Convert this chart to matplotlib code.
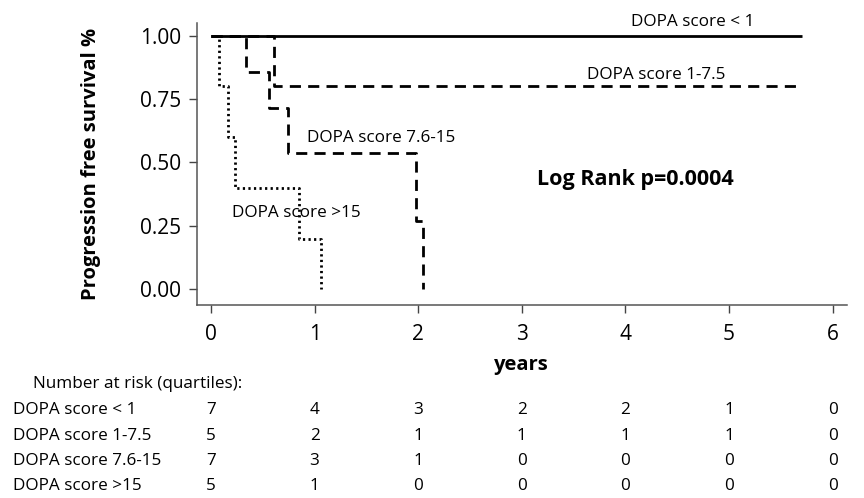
import matplotlib
matplotlib.use('Agg')
import matplotlib.pyplot as plt
import matplotlib.transforms as mtransforms

plt.rcParams['font.family'] = ['Open Sans', 'DejaVu Sans']

# Kaplan-Meier steps (years, survival)
t_lt1 = [0, 5.71]
s_lt1 = [1.0, 1.0]
t_1_75 = [0, 0.61, 5.71]
s_1_75 = [1.0, 0.8, 0.8]
t_76_15 = [0, 0.34, 0.56, 0.74, 1.98, 2.05]
s_76_15 = [1.0, 0.857, 0.714, 0.536, 0.268, 0.0]
t_gt15 = [0, 0.08, 0.16, 0.23, 0.85, 1.06]
s_gt15 = [1.0, 0.8, 0.6, 0.4, 0.2, 0.0]

groups = ["DOPA score < 1", "DOPA score 1-7.5", "DOPA score 7.6-15", "DOPA score >15"]
risk_years = [0, 1, 2, 3, 4, 5, 6]
at_risk = [
    [7, 4, 3, 2, 2, 1, 0],
    [5, 2, 1, 1, 1, 1, 0],
    [7, 3, 1, 0, 0, 0, 0],
    [5, 1, 0, 0, 0, 0, 0],
]

fig = plt.figure(figsize=(8.64, 4.98), dpi=100)
ax = fig.add_axes([0.2277, 0.3876, 0.7523, 0.5668])

ax.step(t_lt1, s_lt1, where='post', color='black', lw=2.0, solid_capstyle='butt')
ax.step(t_1_75, s_1_75, where='post', color='black', lw=2.0, dashes=(4, 2.6))
ax.step(t_76_15, s_76_15, where='post', color='black', lw=2.0, dashes=(4, 2.6))
ax.step(t_gt15, s_gt15, where='post', color='black', lw=2.0, dashes=(0.8, 1.2))

ax.set_xlim(-0.138, 6.137)
ax.set_ylim(-0.062, 1.051)
ax.set_xticks(risk_years)
ax.set_yticks([0, 0.25, 0.5, 0.75, 1.0])
ax.set_yticklabels(["0.00", "0.25", "0.50", "0.75", "1.00"])
ax.tick_params(axis='both', direction='out', length=6, width=1, color='#444444',
               labelsize=15, pad=5)
ax.tick_params(axis='x', pad=8)
for sp in ['top', 'right']:
    ax.spines[sp].set_visible(False)
for sp in ['left', 'bottom']:
    ax.spines[sp].set_color('#555555')
    ax.spines[sp].set_linewidth(1.1)

ax.set_ylabel("Progression free survival %", fontsize=14.5, fontweight='bold', labelpad=28)
ax.set_xlabel("years", fontsize=14.5, fontweight='bold', labelpad=7)

lab = dict(fontsize=12.3, ha='center', va='center', clip_on=False)
ax.text(4.65, 1.054, "DOPA score < 1", **lab)
ax.text(4.30, 0.845, "DOPA score 1-7.5", **lab)
ax.text(1.64, 0.597, "DOPA score 7.6-15", **lab)
ax.text(0.82, 0.301, "DOPA score >15", **lab)
ax.text(4.10, 0.431, "Log Rank p=0.0004", fontsize=15.5, fontweight='bold',
        ha='center', va='center')

# number at risk table
H = 498.0
fig.text(33 / 864, 1 - 384 / H, "Number at risk (quartiles):", fontsize=12.3, va='center')
trans = mtransforms.blended_transform_factory(ax.transData, fig.transFigure)
row_y = [410, 435.7, 460.7, 485.7]
for name, counts, yy in zip(groups, at_risk, row_y):
    fig.text(12.7 / 864, 1 - yy / H, name, fontsize=12.3, va='center')
    for xv, c in zip(risk_years, counts):
        ax.text(xv, 1 - yy / H, str(c), transform=trans, fontsize=12.3,
                ha='center', va='center', clip_on=False)

plt.savefig("out.png", dpi=100)
